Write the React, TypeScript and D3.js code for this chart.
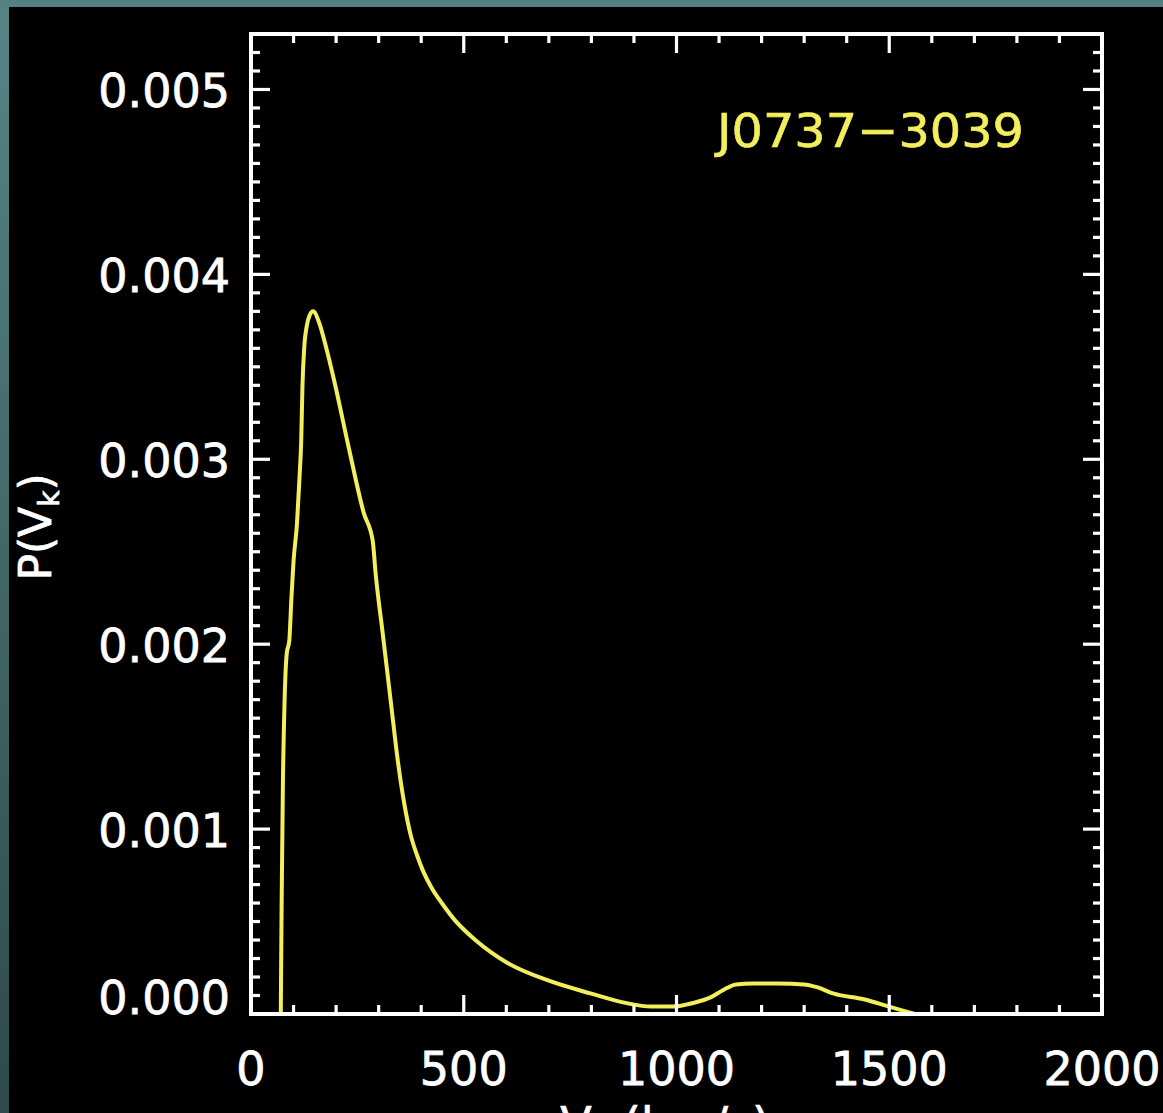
import React from "react";
import * as d3 from "d3";

// ---- data ----
const velocity = [
  70, 72, 75, 79, 84, 90, 95, 100, 108, 114, 118, 121, 125, 131, 138, 146,
  160, 176, 195, 230, 265, 286, 293, 310, 328, 345, 360, 375, 390, 405, 425,
  450, 480, 530, 600, 700, 800, 880, 940, 990, 1040, 1080, 1110, 1140, 1180,
  1240, 1300, 1330, 1370, 1440, 1500, 1530, 1560,
];
const probability = [
  0.0, 0.0006, 0.00125, 0.0017, 0.00195, 0.00202, 0.00225, 0.00245, 0.00265,
  0.0029, 0.0031, 0.0034, 0.0036, 0.00372, 0.00378, 0.0038, 0.00374, 0.00361,
  0.00343, 0.00306, 0.00271, 0.00256, 0.00238, 0.00205, 0.0017, 0.00137,
  0.00114, 0.00097, 0.00086, 0.00077, 0.00068, 0.000595, 0.000505, 0.000395,
  0.00028, 0.00018, 0.00011, 0.00006, 0.00004, 0.00004, 0.00006, 0.00009,
  0.00013, 0.00016, 0.000165, 0.000165, 0.00016, 0.000145, 0.00011, 0.00008,
  0.00004, 0.00002, 0.0,
];
const xMajorTicks = [0, 500, 1000, 1500, 2000];
const xTickLabels = ["0", "500", "1000", "1500", "2000"];
const yMajorTicks = [0, 0.001, 0.002, 0.003, 0.004, 0.005];
const yTickLabels = ["0.000", "0.001", "0.002", "0.003", "0.004", "0.005"];
const xDomain = [0, 2000];
const yDomain = [0, 0.0053];
const pulsarName = "J0737\u22123039";

const W = 1163;
const H = 1113;
const left = 251;
const right = 1102;
const top = 34;
const bottom = 1014;
const YELLOW = "#f3ef5c";
const FONT = "'DejaVu Sans', sans-serif";

export default function App() {
  const x = d3.scaleLinear().domain(xDomain).range([left, right]);
  const y = d3.scaleLinear().domain(yDomain).range([bottom, top]);

  const line = d3
    .line<number>()
    .x((_, i) => x(velocity[i]))
    .y((d) => y(d))
    .curve(d3.curveMonotoneX);
  const pathD = line(probability) || "";

  const xMinor = d3.range(0, 2001, 100).filter((v) => v % 500 !== 0);
  const yMinor = d3
    .range(0, 54)
    .map((i) => i * 0.0001)
    .filter((v, i) => i % 10 !== 0 && v <= yDomain[1]);

  const major = 19;
  const minor = 9;
  const tickStroke = 3.2;

  return (
    <svg
      width={W}
      height={H}
      style={{ position: "absolute", left: 0, top: 0, display: "block" }}
    >
      <defs>
        <linearGradient id="bgGrad" x1="0" y1="0" x2="0" y2="1">
          <stop offset="0" stopColor="#568484" />
          <stop offset="1" stopColor="#2e4a4b" />
        </linearGradient>
        <clipPath id="plotClip">
          <rect x={left} y={top} width={right - left} height={bottom - top} />
        </clipPath>
      </defs>
      <rect x={0} y={0} width={W} height={H} fill="url(#bgGrad)" />
      <rect x={0} y={0} width={W} height={7} fill="#548080" />
      <rect x={9} y={7} width={W - 9} height={H - 7} fill="#000" />

      {/* curve */}
      <path
        d={pathD}
        fill="none"
        stroke={YELLOW}
        strokeWidth={4}
        strokeLinejoin="round"
        clipPath="url(#plotClip)"
      />

      {/* ticks */}
      <g stroke="#fff" strokeWidth={tickStroke}>
        {xMajorTicks.map((v) => (
          <g key={"xm" + v}>
            <line x1={x(v)} x2={x(v)} y1={bottom} y2={bottom - major} />
            <line x1={x(v)} x2={x(v)} y1={top} y2={top + major} />
          </g>
        ))}
        {xMinor.map((v) => (
          <g key={"xn" + v}>
            <line x1={x(v)} x2={x(v)} y1={bottom} y2={bottom - minor} />
            <line x1={x(v)} x2={x(v)} y1={top} y2={top + minor} />
          </g>
        ))}
        {yMajorTicks.map((v) => (
          <g key={"ym" + v}>
            <line x1={left} x2={left + major} y1={y(v)} y2={y(v)} />
            <line x1={right} x2={right - major} y1={y(v)} y2={y(v)} />
          </g>
        ))}
        {yMinor.map((v, i) => (
          <g key={"yn" + i}>
            <line x1={left} x2={left + minor} y1={y(v)} y2={y(v)} />
            <line x1={right} x2={right - minor} y1={y(v)} y2={y(v)} />
          </g>
        ))}
      </g>

      {/* frame */}
      <rect
        x={left}
        y={top}
        width={right - left}
        height={bottom - top}
        fill="none"
        stroke="#fff"
        strokeWidth={4}
      />

      {/* tick labels */}
      <g
        fill="#fff"
        stroke="#fff"
        strokeWidth={0.8}
        fontFamily={FONT}
        fontSize={46}
      >
        {xMajorTicks.map((v, i) => (
          <text key={"xl" + v} x={x(v)} y={1085} textAnchor="middle">
            {xTickLabels[i]}
          </text>
        ))}
        {yMajorTicks.map((v, i) => (
          <text
            key={"yl" + v}
            x={230}
            y={v === 0 ? y(v) : y(v) + 18}
            textAnchor="end"
          >
            {yTickLabels[i]}
          </text>
        ))}
      </g>

      {/* axis titles */}
      <text
        transform="translate(51,527) rotate(-90)"
        textAnchor="middle"
        fill="#fff"
        stroke="#fff"
        strokeWidth={0.7}
        fontFamily={FONT}
        fontSize={44}
      >
        P(V
        <tspan fontSize={28} dy={8}>
          k
        </tspan>
        <tspan dy={-8}>)</tspan>
      </text>
      <text
        x={665}
        y={1140}
        textAnchor="middle"
        fill="#fff"
        stroke="#fff"
        strokeWidth={0.7}
        fontFamily={FONT}
        fontSize={46}
      >
        V
        <tspan fontSize={29} dy={8}>
          k
        </tspan>
        <tspan dy={-8}> (km/s)</tspan>
      </text>

      {/* pulsar name */}
      <text
        x={717}
        y={147}
        fill={YELLOW}
        stroke={YELLOW}
        strokeWidth={0.6}
        fontFamily={FONT}
        fontSize={47}
        textLength={307}
        lengthAdjust="spacingAndGlyphs"
      >
        {pulsarName}
      </text>
    </svg>
  );
}
